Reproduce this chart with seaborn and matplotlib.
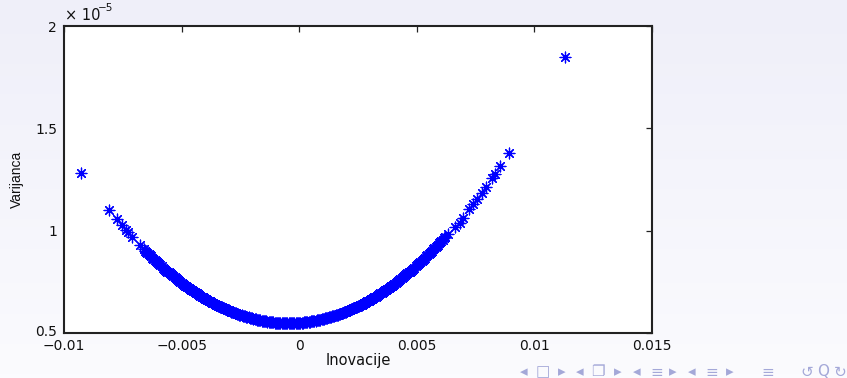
import numpy as np
import pandas as pd
import matplotlib
matplotlib.use('Agg')
import matplotlib.pyplot as plt
import seaborn as sns
from matplotlib.colors import LinearSegmentedColormap
from matplotlib.transforms import ScaledTranslation

# inovacije (x 1e-3) i varijanca (x 1e-5), ocitano sa slike
inov_lijevo = [-9.28, -8.07, -7.76, -7.55, -7.38, -7.28, -7.12, -6.77]
var_lijevo = [1.284, 1.099, 1.055, 1.027, 1.003, 0.992, 0.971, 0.929]

inov_sredina = [
    -6.6, -6.5, -6.4, -6.3, -6.2, -6.1, -6.0, -5.9, -5.8, -5.7,
    -5.6, -5.5, -5.4, -5.3, -5.2, -5.1, -5.0, -4.9, -4.8, -4.7,
    -4.6, -4.5, -4.4, -4.3, -4.2, -4.1, -4.0, -3.9, -3.8, -3.7,
    -3.6, -3.5, -3.4, -3.3, -3.2, -3.1, -3.0, -2.9, -2.8, -2.7,
    -2.6, -2.5, -2.4, -2.3, -2.2, -2.1, -2.0, -1.9, -1.8, -1.7,
    -1.6, -1.5, -1.4, -1.3, -1.2, -1.1, -1.0, -0.9, -0.8, -0.7,
    -0.6, -0.5, -0.4, -0.3, -0.2, -0.1, 0.0,
    0.1, 0.2, 0.3, 0.4, 0.5, 0.6, 0.7, 0.8, 0.9, 1.0,
    1.1, 1.2, 1.3, 1.4, 1.5, 1.6, 1.7, 1.8, 1.9, 2.0,
    2.1, 2.2, 2.3, 2.4, 2.5, 2.6, 2.7, 2.8, 2.9, 3.0,
    3.1, 3.2, 3.3, 3.4, 3.5, 3.6, 3.7, 3.8, 3.9, 4.0,
    4.1, 4.2, 4.3, 4.4, 4.5, 4.6, 4.7, 4.8, 4.9, 5.0,
    5.1, 5.2, 5.3, 5.4, 5.5, 5.6, 5.7, 5.8, 5.9, 6.0,
    6.1, 6.2,
]
var_sredina = [
    0.908, 0.896, 0.885, 0.874, 0.863, 0.852, 0.841, 0.831, 0.820, 0.810,
    0.800, 0.791, 0.781, 0.772, 0.763, 0.754, 0.745, 0.736, 0.728, 0.720,
    0.712, 0.704, 0.697, 0.689, 0.682, 0.675, 0.668, 0.661, 0.655, 0.649,
    0.642, 0.637, 0.631, 0.625, 0.620, 0.615, 0.610, 0.605, 0.601, 0.596,
    0.592, 0.588, 0.584, 0.581, 0.577, 0.574, 0.571, 0.568, 0.565, 0.563,
    0.561, 0.559, 0.557, 0.555, 0.553, 0.552, 0.551, 0.550, 0.549, 0.549,
    0.548, 0.548, 0.548, 0.548, 0.549, 0.549, 0.550,
    0.551, 0.552, 0.553, 0.555, 0.557, 0.559, 0.561, 0.563, 0.565, 0.568,
    0.571, 0.574, 0.577, 0.581, 0.584, 0.588, 0.592, 0.596, 0.601, 0.605,
    0.610, 0.615, 0.620, 0.625, 0.631, 0.637, 0.642, 0.649, 0.655, 0.661,
    0.668, 0.675, 0.682, 0.689, 0.697, 0.704, 0.712, 0.720, 0.728, 0.736,
    0.745, 0.754, 0.763, 0.772, 0.781, 0.791, 0.800, 0.810, 0.820, 0.831,
    0.841, 0.852, 0.863, 0.874, 0.885, 0.896, 0.908, 0.920, 0.932, 0.944,
    0.956, 0.969,
]

# gusti dio krivulje, drugi niz opazanja
inov_sredina2 = [
    -6.55, -6.45, -6.35, -6.25, -6.15, -6.05, -5.95, -5.85, -5.75, -5.65,
    -5.55, -5.45, -5.35, -5.25, -5.15, -5.05, -4.95, -4.85, -4.75, -4.65,
    -4.55, -4.45, -4.35, -4.25, -4.15, -4.05, -3.95, -3.85, -3.75, -3.65,
    -3.55, -3.45, -3.35, -3.25, -3.15, -3.05, -2.95, -2.85, -2.75, -2.65,
    -2.55, -2.45, -2.35, -2.25, -2.15, -2.05, -1.95, -1.85, -1.75, -1.65,
    -1.55, -1.45, -1.35, -1.25, -1.15, -1.05, -0.95, -0.85, -0.75, -0.65,
    -0.55, -0.45, -0.35, -0.25, -0.15, -0.05, 0.05, 0.15, 0.25, 0.35,
    0.45, 0.55, 0.65, 0.75, 0.85, 0.95, 1.05, 1.15, 1.25, 1.35,
    1.45, 1.55, 1.65, 1.75, 1.85, 1.95, 2.05, 2.15, 2.25, 2.35,
    2.45, 2.55, 2.65, 2.75, 2.85, 2.95, 3.05, 3.15, 3.25, 3.35,
    3.45, 3.55, 3.65, 3.75, 3.85, 3.95, 4.05, 4.15, 4.25, 4.35,
    4.45, 4.55, 4.65, 4.75, 4.85, 4.95, 5.05, 5.15, 5.25, 5.35,
    5.45, 5.55, 5.65, 5.75, 5.85, 5.95, 6.05, 6.15,
]
var_sredina2 = [
    0.902, 0.891, 0.879, 0.868, 0.857, 0.847, 0.836, 0.826, 0.815, 0.805,
    0.796, 0.786, 0.777, 0.767, 0.758, 0.749, 0.741, 0.732, 0.724, 0.716,
    0.708, 0.700, 0.693, 0.685, 0.678, 0.671, 0.665, 0.658, 0.652, 0.645,
    0.639, 0.634, 0.628, 0.623, 0.617, 0.612, 0.608, 0.603, 0.598, 0.594,
    0.590, 0.586, 0.582, 0.579, 0.576, 0.572, 0.569, 0.567, 0.564, 0.562,
    0.560, 0.558, 0.556, 0.554, 0.553, 0.551, 0.550, 0.550, 0.549, 0.548,
    0.548, 0.548, 0.548, 0.548, 0.549, 0.550, 0.550, 0.551, 0.553, 0.554,
    0.556, 0.558, 0.560, 0.562, 0.564, 0.567, 0.569, 0.572, 0.576, 0.579,
    0.582, 0.586, 0.590, 0.594, 0.598, 0.603, 0.608, 0.612, 0.617, 0.623,
    0.628, 0.634, 0.639, 0.645, 0.652, 0.658, 0.665, 0.671, 0.678, 0.685,
    0.693, 0.700, 0.708, 0.716, 0.724, 0.732, 0.741, 0.749, 0.758, 0.767,
    0.777, 0.786, 0.796, 0.805, 0.815, 0.826, 0.836, 0.847, 0.857, 0.868,
    0.879, 0.891, 0.902, 0.914, 0.926, 0.938, 0.950, 0.963,
]

inov_desno = [6.34, 6.62, 6.84, 6.98, 7.23, 7.40, 7.55, 7.76, 7.94, 8.18, 8.33, 8.54, 8.92, 11.3]
var_desno = [0.982, 1.020, 1.039, 1.060, 1.104, 1.132, 1.153, 1.185, 1.215, 1.255, 1.278, 1.318, 1.380, 1.849]

x_ticks = [-0.01, -0.005, 0, 0.005, 0.01, 0.015]
x_labels = ['\u22120.01', '\u22120.005', '0', '0.005', '0.01', '0.015']
y_ticks = [0.5, 1, 1.5, 2]
y_labels = ['0.5', '1', '1.5', '2']

df = pd.DataFrame({
    'inov': np.array(inov_lijevo + inov_sredina + inov_sredina2 + inov_desno) * 1e-3,
    'var': var_lijevo + var_sredina + var_sredina2 + var_desno,
})

sns.set_style('white')
plt.rcParams['font.family'] = ['DejaVu Sans']

W, H = 847, 378
fig = plt.figure(figsize=(W / 100, H / 100), dpi=100)

# pozadina slajda (blagi gradijent)
bg = fig.add_axes([0, 0, 1, 1], zorder=-10)
cmap = LinearSegmentedColormap.from_list('bg', ['#efeff9', '#fbfbfe'])
bg.imshow(np.linspace(0, 1, 100).reshape(-1, 1), aspect='auto', cmap=cmap,
          extent=[0, 1, 0, 1])
bg.set_axis_off()

ax = fig.add_axes([64 / W, 1 - 333 / H, (652 - 64) / W, (333 - 26) / H])
ax.set_facecolor('white')

sns.scatterplot(data=df, x='inov', y='var', marker=(8, 2, 0), s=60,
                color='#0000ff', linewidth=0.9, ax=ax, legend=False)

ax.set_xlim(-0.01, 0.015)
ax.set_ylim(0.5, 2)
ax.set_xticks(x_ticks)
ax.set_xticklabels(x_labels)
ax.set_yticks(y_ticks)
ax.set_yticklabels(y_labels)
ax.tick_params(direction='in', length=4, width=0.9, color='#222222',
               top=True, right=True, labelsize=10, pad=4, labelcolor='#111111')
ax.tick_params(axis='y', pad=5)
for sp in ax.spines.values():
    sp.set_visible(True)
    sp.set_color('#222222')
    sp.set_linewidth(1.5)

# donja oznaka y osi malo iznad, kao na slajdu
lab0 = ax.get_yticklabels()[0]
lab0.set_transform(lab0.get_transform() + ScaledTranslation(0, 2 / 72, fig.dpi_scale_trans))

ax.set_xlabel('Inovacije', fontsize=10.5, labelpad=0, color='#111111')
ax.set_ylabel('Varijanca', fontsize=10, labelpad=8, color='#111111',
              family='Liberation Sans')

fig.text(65 / W, 1 - 20 / H, '\u00d7 10', fontsize=10.5, color='#111111')
fig.text(98 / W, 1 - 11 / H, '\u22125', fontsize=7.5, color='#111111')

# beamer navigacijski simboli
nav = [(524, '\u25c2'), (543, '\u25a1'), (562, '\u25b8'), (580, '\u25c2'),
       (598, '\u2750'), (618, '\u25b8'), (637, '\u25c2'), (657, '\u2261'),
       (673, '\u25b8'), (692, '\u25c2'), (712, '\u2261'), (730, '\u25b8'),
       (768, '\u2261'), (807, '\u21ba'), (823, 'Q'), (840, '\u21bb')]
for px, ch in nav:
    fig.text(px / W, 1 - 372 / H, ch, fontsize=11, color='#a4a8d8',
             ha='center', va='center')

fig.savefig('out.png', dpi=100)
